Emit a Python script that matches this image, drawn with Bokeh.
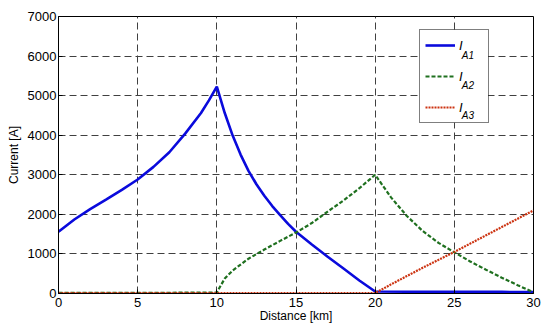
from bokeh.plotting import figure
from bokeh.models import Range1d, FixedTicker, Legend, LegendItem, ColumnDataSource, BoxAnnotation
from bokeh.core.properties import value
from bokeh.embed import file_html
from bokeh.resources import INLINE

# ---- data ----
dist_a1 = [0, 1, 2, 3, 4, 5, 6, 7, 8, 9, 9.5, 10, 10.5, 11, 11.5, 12, 12.5, 13, 13.5, 14,
           14.5, 15, 16, 17, 18, 19, 20, 22, 24, 26, 28, 30]
i_a1 = [1560, 1870, 2130, 2370, 2620, 2880, 3200, 3570, 4040, 4560, 4880, 5230, 4560, 3990,
        3510, 3100, 2760, 2470, 2210, 1980, 1760, 1560, 1240, 930, 630, 330, 50, 45, 45, 40, 40, 35]

dist_a2 = [0, 5, 10, 10.5, 11, 12, 13, 14, 15, 16, 17, 18, 19, 20, 21, 22, 23, 24, 25, 26,
           27, 28, 29, 30]
i_a2 = [15, 15, 25, 380, 580, 880, 1110, 1330, 1540, 1780, 2070, 2350, 2660, 3000, 2430,
        1960, 1580, 1280, 1040, 810, 600, 400, 210, 30]

dist_a3 = [0, 10, 20, 21, 22, 23, 24, 25, 26, 27, 28, 29, 30]
i_a3 = [10, 10, 10, 230, 440, 650, 850, 1050, 1260, 1470, 1680, 1890, 2100]

x_ticks = [0, 5, 10, 15, 20, 25, 30]
y_ticks = [0, 1000, 2000, 3000, 4000, 5000, 6000, 7000]

legend_main = ["I", "I", "I"]
legend_sub = ["A1", "A2", "A3"]

FONT = "Liberation Sans"

p = figure(width=550, height=327, x_range=Range1d(0, 30), y_range=Range1d(0, 7000),
           output_backend="svg", toolbar_location=None,
           min_border_left=58, min_border_right=17, min_border_top=16, min_border_bottom=34,
           background_fill_color="white", border_fill_color="white")

p.outline_line_color = "black"
p.outline_line_width = 1

for ax in [p.xaxis[0], p.yaxis[0]]:
    ax.major_label_text_font = FONT
    ax.major_label_text_font_size = "13px"
    ax.major_label_text_color = "black"
    ax.axis_label_text_font = FONT
    ax.axis_label_text_font_size = "12px"
    ax.axis_label_text_font_style = "normal"
    ax.axis_label_text_color = "black"
    ax.axis_line_color = "black"
    ax.major_tick_in = 4
    ax.major_tick_out = 0
    ax.minor_tick_line_color = None
    ax.major_tick_line_color = "black"

p.xaxis[0].ticker = FixedTicker(ticks=x_ticks)
p.yaxis[0].ticker = FixedTicker(ticks=y_ticks)
p.xaxis[0].axis_label = "Distance [km]"
p.yaxis[0].axis_label = "Current [A]"
p.xaxis[0].major_label_standoff = 4
p.xaxis[0].axis_label_standoff = -1
p.yaxis[0].major_label_standoff = 2
p.yaxis[0].axis_label_standoff = 4

p.xgrid.ticker = FixedTicker(ticks=x_ticks)
p.ygrid.ticker = FixedTicker(ticks=y_ticks)
for g in [p.xgrid[0], p.ygrid[0]]:
    g.grid_line_color = "#404040"
    g.grid_line_dash = "7 4"
    g.grid_line_width = 1

r1 = p.line(dist_a1, i_a1, line_color="#0a0adc", line_width=2.6)
r2 = p.line(dist_a2, i_a2, line_color="#1f701f", line_width=2.2, line_dash="4 2")
r3 = p.line(dist_a3, i_a3, line_color="#cc3311", line_width=2.2, line_dash="2 1")

# white backing for the legend box (hides grid lines)
p.add_layout(BoxAnnotation(left=22.79, right=27.14, bottom=4312, top=6639,
                           fill_color="white", fill_alpha=1.0, line_color=None))

legend = Legend(items=[LegendItem(label=legend_main[i], renderers=[r])
                       for i, r in enumerate((r1, r2, r3))],
                location=(361, 170), margin=0, padding=5, spacing=11,
                glyph_width=30, glyph_height=20, label_width=24, label_height=20,
                label_standoff=4, border_line_color="black", border_line_width=1,
                background_fill_alpha=0.0,
                label_text_font=FONT, label_text_font_size="13px",
                label_text_font_style="italic", label_text_color="black")
p.add_layout(legend, "center")

# legend subscripts
sub_src = ColumnDataSource(dict(x=[25.47, 25.47, 25.47], y=[6010, 5250, 4490], t=legend_sub))
p.text(x="x", y="y", text="t", source=sub_src, text_font=value(FONT),
       text_font_size="10px", text_font_style="italic", text_baseline="alphabetic",
       text_align="left", text_color="black", level="overlay")

open("out.html", "w").write(file_html(p, INLINE))
